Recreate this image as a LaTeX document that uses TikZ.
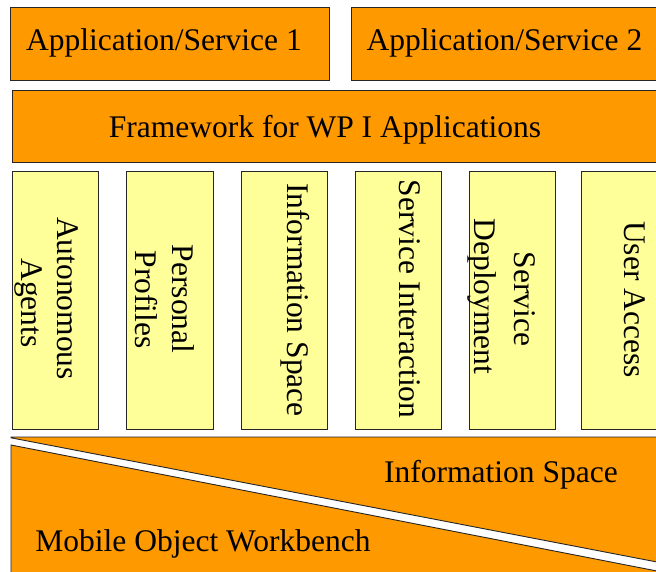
\documentclass[tikz,border=0pt]{standalone}
\usepackage{fontspec}
\setmainfont{Liberation Serif}
\definecolor{orng}{HTML}{FF9900}
\definecolor{ylw}{HTML}{FFFF99}
\begin{document}
\begin{tikzpicture}[x=1pt,y=-1pt,
  orangebox/.style={draw=black!85, line width=0.9pt, fill=orng, inner sep=0pt, outer sep=0pt, anchor=north west},
  colbox/.style={draw=black!85, line width=0.9pt, fill=ylw, inner sep=0pt, outer sep=0pt, anchor=north west, minimum width=86.4pt, minimum height=257.6pt},
  lbl/.style={font=\fontsize{31.5}{35}\selectfont, inner sep=0pt, outer sep=0pt, anchor=base},
  vlbl/.style={lbl, rotate=-90},
  layer/.style={draw=black!85, line width=0.9pt, fill=orng, line join=miter}]
\useasboundingbox (0,0) rectangle (656,571);
\clip (0,0) rectangle (656,571);
\fill[white] (0,0) rectangle (656,571);
% top boxes
\node[orangebox, minimum width=319pt, minimum height=73.4pt] (app1) at (10,7.3) {};
\node[orangebox, minimum width=330pt, minimum height=73.4pt] (app2) at (351,7.3) {};
\node[orangebox, minimum width=680pt, minimum height=72.3pt] (fw) at (12.3,90.5) {};
% columns
\node[colbox] (c1) at (12.3,171.7) {};
\node[colbox] (c2) at (126.7,171.7) {};
\node[colbox] (c3) at (241,171.7) {};
\node[colbox] (c4) at (355.2,171.7) {};
\node[colbox] (c5) at (469.3,171.7) {};
\node[colbox] (c6) at (581.7,171.7) {};
% bottom layers
\path[layer] (11,437) -- (720,437) -- (720,574.1) -- (11,437.8) -- cycle;
\path[layer] (11,445) -- (720,583.3) -- (720,620) -- (11,620) -- cycle;
% labels
\node[lbl] (t-app1) at (164,50.5) {Application/Service 1};
\node[lbl] (t-app2) at (504.5,50) {Application/Service 2};
\node[lbl] (t-fw) at (325,137) {Framework for WP I Applications};
\node[vlbl] (t-c1a) at (57,298.5) {Autonomous};
\node[vlbl] (t-c1b) at (21,303) {Agents};
\node[vlbl] (t-c2a) at (172,299) {Personal};
\node[vlbl] (t-c2b) at (135.5,299.5) {Profiles};
\node[vlbl] (t-c3) at (287.2,300) {Information Space};
\node[vlbl] (t-c4) at (399.5,299) {Service Interaction};
\node[vlbl] (t-c5a) at (514.5,299) {Service};
\node[vlbl] (t-c5b) at (474,296.5) {Deployment};
\node[vlbl] (t-c6) at (624.5,299.5) {User Access};
\node[lbl] (t-is) at (501,482) {Information Space};
\node[lbl] (t-mow) at (203,551) {Mobile Object Workbench};
\end{tikzpicture}
\end{document}
